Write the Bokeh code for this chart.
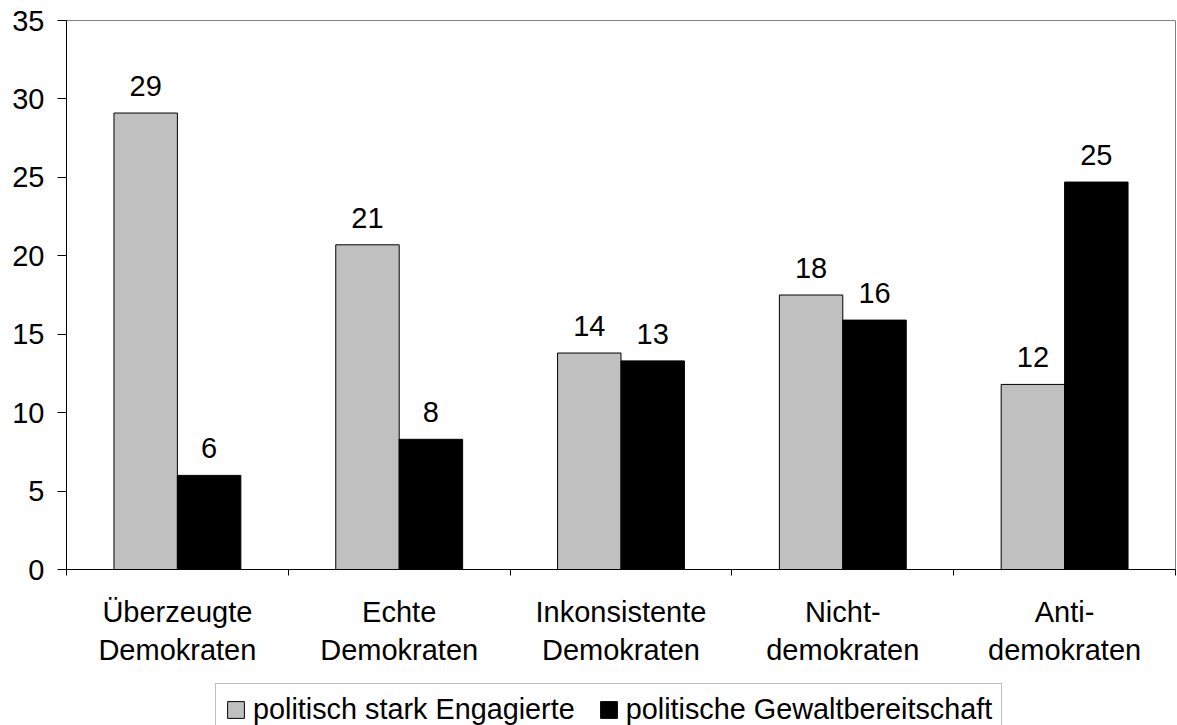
from bokeh.plotting import figure
from bokeh.layouts import column
from bokeh.models import Range1d, FixedTicker, ColumnDataSource, LabelSet, Legend, LegendItem
from bokeh.core.properties import value
from bokeh.embed import file_html
from bokeh.resources import INLINE

categories = ["Überzeugte\nDemokraten", "Echte\nDemokraten", "Inkonsistente\nDemokraten",
              "Nicht-\ndemokraten", "Anti-\ndemokraten"]
series_names = ["politisch stark Engagierte", "politische Gewaltbereitschaft"]
engagiert = [29.1, 20.7, 13.8, 17.5, 11.8]
gewalt = [6.0, 8.3, 13.3, 15.9, 24.7]
y_ticks = [0, 5, 10, 15, 20, 25, 30, 35]
colors = ["#c0c0c0", "black"]

FONT = "Liberation Sans"
FS = "29px"
BAR_W = 0.286

centers = [i + 0.5 for i in range(len(categories))]
boundaries = [i for i in range(len(categories) + 1)]

p = figure(width=1177, height=680, output_backend="svg", toolbar_location=None,
           x_range=Range1d(0, len(categories)), y_range=Range1d(0, 35),
           min_border_left=66, min_border_right=2, min_border_top=20, min_border_bottom=111)
p.background_fill_color = "white"
p.border_fill_color = "white"
p.outline_line_color = "#808080"
p.outline_line_width = 1
p.xgrid.visible = False
p.ygrid.visible = False

src1 = ColumnDataSource(dict(x=[c - BAR_W / 2 for c in centers], top=engagiert,
                             label=[f"{v:.0f}" for v in engagiert]))
src2 = ColumnDataSource(dict(x=[c + BAR_W / 2 for c in centers], top=gewalt,
                             label=[f"{v:.0f}" for v in gewalt]))

p.vbar(x="x", top="top", bottom=0, width=BAR_W, source=src1,
       fill_color=colors[0], line_color="black", line_width=1)
p.vbar(x="x", top="top", bottom=0, width=BAR_W, source=src2,
       fill_color=colors[1], line_color="black", line_width=1)

for s in (src1, src2):
    p.add_layout(LabelSet(x="x", y="top", text="label", source=s, text_align="center",
                          text_baseline="alphabetic", y_offset=17, text_font=value(FONT),
                          text_font_size=value(FS), text_color="black"))

# x axis
xa = p.xaxis[0]
xa.ticker = FixedTicker(ticks=centers, minor_ticks=boundaries)
xa.major_label_overrides = {c: lab for c, lab in zip(centers, categories)}
xa.major_tick_out = 0
xa.major_tick_in = 0
xa.minor_tick_out = 6
xa.minor_tick_in = 0
xa.minor_tick_line_color = "black"
xa.axis_line_color = "black"
xa.major_label_text_font = FONT
xa.major_label_text_font_size = FS
xa.major_label_text_color = "black"
xa.major_label_standoff = 20
xa.major_label_text_line_height = 1.2

# y axis
ya = p.yaxis[0]
ya.ticker = FixedTicker(ticks=y_ticks)
ya.major_tick_out = 9
ya.major_tick_in = 0
ya.minor_tick_out = 0
ya.minor_tick_in = 0
ya.axis_line_color = "black"
ya.major_tick_line_color = "black"
ya.major_label_text_font = FONT
ya.major_label_text_font_size = FS
ya.major_label_text_color = "black"
ya.major_label_standoff = 13

# legend strip below the chart (its bar renderers fall outside its range, so only the key shows)
q = figure(width=1177, height=45, output_backend="svg", toolbar_location=None,
           x_range=Range1d(0, len(categories)), y_range=Range1d(100, 101),
           x_axis_type=None, y_axis_type=None,
           min_border_left=0, min_border_right=0, min_border_top=0, min_border_bottom=0)
q.outline_line_color = None
q.background_fill_color = "white"
q.border_fill_color = "white"
q.xgrid.visible = False
q.ygrid.visible = False
d1 = q.vbar(x="x", top="top", bottom=0, width=BAR_W, source=src1,
            fill_color=colors[0], line_color="black", line_width=1)
d2 = q.vbar(x="x", top="top", bottom=0, width=BAR_W, source=src2,
            fill_color=colors[1], line_color="black", line_width=1)

legend = Legend(items=[LegendItem(label=series_names[0], renderers=[d1]),
                       LegendItem(label=series_names[1], renderers=[d2])],
                orientation="horizontal", location=(149, -11))
legend.border_line_color = "#808080"
legend.border_line_width = 1
legend.background_fill_color = "white"
legend.background_fill_alpha = 1
legend.label_text_font = FONT
legend.label_text_font_size = "28.8px"
legend.label_text_color = "black"
legend.glyph_width = 21
legend.glyph_height = 21
legend.label_standoff = 7
legend.spacing = 23
legend.padding = 9
legend.margin = 0
q.add_layout(legend, "center")

layout = column(p, q, spacing=0)
open("out.html", "w").write(file_html(layout, INLINE))
